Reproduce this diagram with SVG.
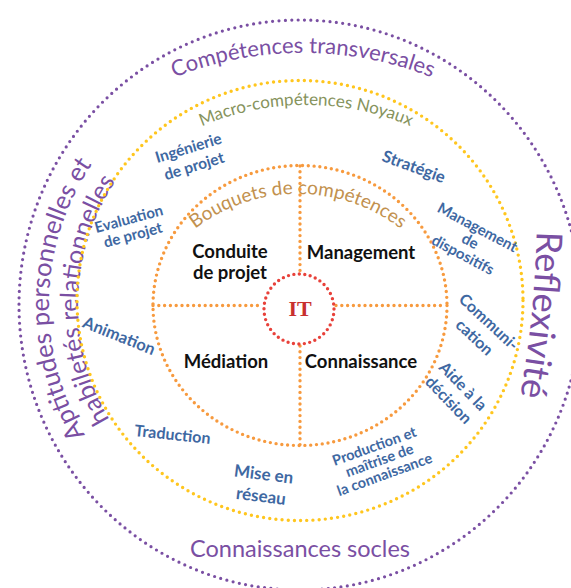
<svg xmlns="http://www.w3.org/2000/svg" width="571" height="588" viewBox="0 0 571 588">
<style>
  text { font-family: Lato, "Open Sans", "Liberation Sans", sans-serif; }
  .ring { fill: none; stroke-linecap: round; }
  .purple { stroke: #7A4FA3; stroke-width: 3.2; stroke-dasharray: 0 6.4; }
  .yellow { stroke: #FFC61E; stroke-width: 3.4; stroke-dasharray: 0 6.2; }
  .orange { stroke: #F79A3E; stroke-width: 3.4; stroke-dasharray: 0 5.8; }
  .red { stroke: #E8413A; stroke-width: 3.4; stroke-dasharray: 0 5.5; }
  .ptxt { fill: #7A4FA3; }
  .blue { fill: #3E68A2; font-weight: 700; text-anchor: middle; }
  .black { fill: #111111; font-weight: 700; font-size: 18.5px; text-anchor: middle; }
</style>
<defs>
  <path id="pTransv" d="M133,97 A350,350 0 0 1 473,97"/>
  <path id="pMacro" d="M156,151.3 A266,266 0 0 1 456,151.3"/>
  <path id="pBouq" d="M158,268.3 A169,169 0 0 1 438,268.3"/>
  <path id="pApt1" d="M174.5,522.4 A251,251 0 0 1 174.5,87.6"/>
  <path id="pApt2" d="M189,497.3 A222,222 0 0 1 189,112.7"/>
  <path id="pRefl" d="M537,215 Q536,318 517,412"/>
</defs>
<rect width="571" height="588" fill="#ffffff"/>

<g id="ring-outer">
  <ellipse class="ring purple" cx="300" cy="305" rx="281" ry="285"/>
  <text class="ptxt" font-size="22"><textPath href="#pTransv" startOffset="50%" text-anchor="middle">Compétences transversales</textPath></text>
  <text class="ptxt" font-size="25.5"><textPath href="#pApt1" startOffset="51.2%" text-anchor="middle">Aptitudes personnelles et</textPath></text>
  <text class="ptxt" font-size="25"><textPath href="#pApt2" startOffset="51.2%" text-anchor="middle">habiletés relationnelles</textPath></text>
  <text class="ptxt" font-size="36"><textPath href="#pRefl" startOffset="50%" text-anchor="middle">Reflexivité</textPath></text>
  <text class="ptxt" font-size="23.5" x="300" y="557" text-anchor="middle">Connaissances socles</text>
</g>

<g id="ring-middle">
  <ellipse class="ring yellow" cx="300" cy="300.5" rx="223" ry="220"/>
  <text fill="#86935C" font-size="17"><textPath href="#pMacro" startOffset="50%" text-anchor="middle">Macro-compétences Noyaux</textPath></text>
</g>

<g id="ring-inner">
  <ellipse class="ring orange" cx="300" cy="305.5" rx="147" ry="140"/>
  <text fill="#C2914E" font-size="19"><textPath href="#pBouq" startOffset="50%" text-anchor="middle">Bouquets de compétences</textPath></text>
</g>

<g id="connectors">
  <line class="ring orange" x1="300" y1="166" x2="300" y2="271"/>
  <line class="ring orange" x1="300" y1="346" x2="300" y2="445"/>
  <line class="ring orange" x1="153" y1="305.5" x2="262" y2="305.5"/>
  <line class="ring orange" x1="336" y1="305.5" x2="446" y2="305.5"/>
</g>

<g id="core">
  <circle class="ring red" cx="299" cy="309" r="35"/>
  <text x="300" y="316" font-weight="700" font-size="22" fill="#C8302E" text-anchor="middle" style="font-family:'Liberation Serif',serif">IT</text>
</g>

<g id="bouquet-conduite"><text class="black"><tspan x="230" y="258">Conduite</tspan><tspan x="230" y="279">de projet</tspan></text></g>
<g id="bouquet-management"><text class="black" x="361" y="259">Management</text></g>
<g id="bouquet-mediation"><text class="black" x="226" y="368">Médiation</text></g>
<g id="bouquet-connaissance"><text class="black" x="361" y="368">Connaissance</text></g>

<g id="macro-ingenierie" transform="translate(190,153) rotate(-17)"><text class="blue" font-size="15.5"><tspan x="0" y="0">Ingénierie</tspan><tspan x="0" y="19">de projet</tspan></text></g>
<g id="macro-strategie" transform="translate(412,172) rotate(20)"><text class="blue" font-size="16.5" x="0" y="0">Stratégie</text></g>
<g id="macro-evaluation" transform="translate(130,224) rotate(-15)"><text class="blue" font-size="15"><tspan x="0" y="0">Evaluation</tspan><tspan x="0" y="16.5">de projet</tspan></text></g>
<g id="macro-management" transform="translate(475,232) rotate(28)"><text class="blue" font-size="15"><tspan x="0" y="0">Management</tspan><tspan x="0" y="15.5">de</tspan><tspan x="0" y="31">dispositifs</tspan></text></g>
<g id="macro-communication" transform="translate(485,326) rotate(43)"><text class="blue" font-size="16"><tspan x="0" y="0">Communi-</tspan><tspan x="0" y="21">cation</tspan></text></g>
<g id="macro-aide" transform="translate(459,390) rotate(46)"><text class="blue" font-size="16"><tspan x="0" y="0">Aide à la</tspan><tspan x="0" y="20">décision</tspan></text></g>
<g id="macro-animation" transform="translate(117,341) rotate(22)"><text class="blue" font-size="16.5" x="0" y="0">Animation</text></g>
<g id="macro-traduction" transform="translate(172,440) rotate(6)"><text class="blue" font-size="16" x="0" y="0">Traduction</text></g>
<g id="macro-mise" transform="translate(263,480) rotate(7)"><text class="blue" font-size="17"><tspan x="0" y="0">Mise en</tspan><tspan x="0" y="22">réseau</tspan></text></g>
<g id="macro-production" transform="translate(376,451) rotate(-20)"><text class="blue" font-size="14.5"><tspan x="0" y="0">Production et</tspan><tspan x="0" y="15">maîtrise de</tspan><tspan x="0" y="30">la connaissance</tspan></text></g>
</svg>
